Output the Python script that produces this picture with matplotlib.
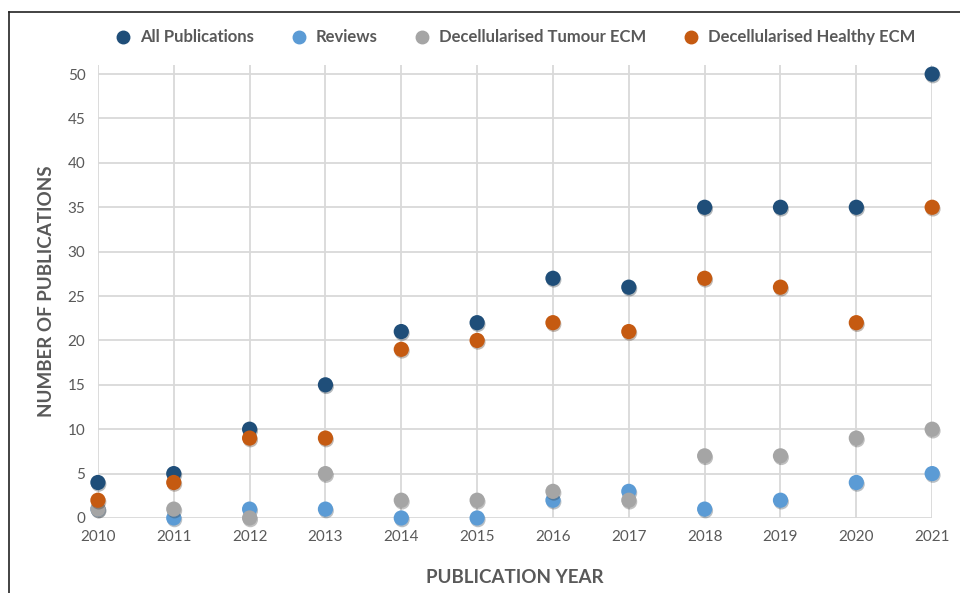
import matplotlib
matplotlib.use("Agg")
import matplotlib.pyplot as plt
import matplotlib.patheffects as pe
from matplotlib.lines import Line2D

years = [2010, 2011, 2012, 2013, 2014, 2015, 2016, 2017, 2018, 2019, 2020, 2021]
all_pubs = [4, 5, 10, 15, 21, 22, 27, 26, 35, 35, 35, 50]
reviews = [1, 0, 1, 1, 0, 0, 2, 3, 1, 2, 4, 5]
tumour_ecm = [1, 1, 0, 5, 2, 2, 3, 2, 7, 7, 9, 10]
healthy_ecm = [2, 4, 9, 9, 19, 20, 22, 21, 27, 26, 22, 35]

series = [
    ("All Publications", all_pubs, "#1f4e79"),
    ("Reviews", reviews, "#5b9bd5"),
    ("Decellularised Tumour ECM", tumour_ecm, "#a5a5a5"),
    ("Decellularised Healthy ECM", healthy_ecm, "#c55a11"),
]

plt.rcParams['font.family'] = ['Lato', 'DejaVu Sans']
grey = "#595959"

fig = plt.figure(figsize=(9.6, 5.93), dpi=100)
ax = fig.add_axes([0.102, 0.1265, 0.869, 0.7635])

shadow = [pe.SimplePatchShadow(offset=(0.6, -1.2), alpha=0.3), pe.Normal()]
handles = []
for name, vals, col in series:
    ax.scatter(years, vals, s=120, color=col, zorder=3, path_effects=shadow,
               linewidths=0, clip_on=False)
    handles.append(Line2D([], [], marker='o', linestyle='', color=col, markersize=9, label=name))

ax.set_xlim(2010, 2021)
ax.set_ylim(0, 51)
ax.set_xticks(years)
ax.set_yticks(range(0, 51, 5))
ax.grid(True, color="#d9d9d9", linewidth=1.3, zorder=0)
ax.set_axisbelow(True)
for s in ax.spines.values():
    s.set_visible(False)
ax.tick_params(length=0, labelsize=11, colors=grey, pad=9)
ax.set_xlabel("PUBLICATION YEAR", fontsize=13.5, fontweight='bold', color=grey, labelpad=18)
ax.set_ylabel("NUMBER OF PUBLICATIONS", fontsize=13.5, fontweight='bold', color=grey, labelpad=9)

fig.legend(handles=handles, loc='center', bbox_to_anchor=(0.532, 0.937), ncol=4,
           frameon=False, handletextpad=0.0, columnspacing=1.7,
           prop={'weight': 'bold', 'size': 12}, labelcolor=grey)

# cropped outer frame (top and left edges only)
fig.add_artist(Line2D([0.0094, 1.0], [0.98, 0.98], transform=fig.transFigure, color="#222222", linewidth=1.2))
fig.add_artist(Line2D([0.0094, 0.0094], [0.0, 0.98], transform=fig.transFigure, color="#222222", linewidth=1.2))

fig.savefig("out.png", dpi=100)
